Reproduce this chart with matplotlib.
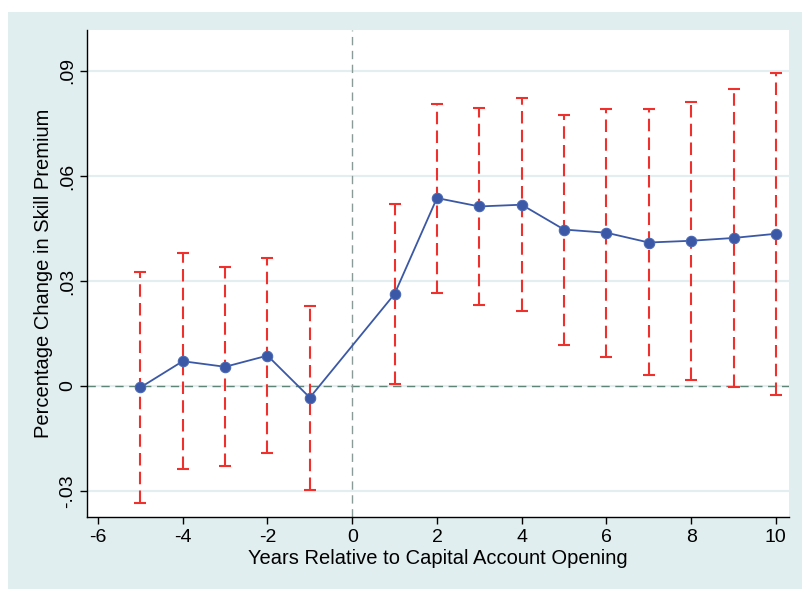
import numpy as np
import matplotlib
matplotlib.use("Agg")
import matplotlib.pyplot as plt

# Event-study estimates and 95% confidence bounds
years = [-5, -4, -3, -2, -1, 1, 2, 3, 4, 5, 6, 7, 8, 9, 10]
coef = [-0.0004, 0.0071, 0.0055, 0.0087, -0.0033, 0.0263, 0.0537, 0.0513, 0.0518,
        0.0447, 0.0438, 0.0410, 0.0415, 0.0423, 0.0435]
ci_low = [-0.0333, -0.0238, -0.0228, -0.0190, -0.0297, 0.0005, 0.0267, 0.0231, 0.0213,
          0.0118, 0.0083, 0.0031, 0.0017, -0.0003, -0.0025]
ci_high = [0.0325, 0.0381, 0.0339, 0.0365, 0.0230, 0.0521, 0.0806, 0.0793, 0.0823,
           0.0775, 0.0790, 0.0790, 0.0812, 0.0849, 0.0894]

xticks = [-6, -4, -2, 0, 2, 4, 6, 8, 10]
yticks = [-0.03, 0, 0.03, 0.06, 0.09]
ytick_labels = ["-.03", "0", ".03", ".06", ".09"]

bg = "#e1eef0"
navy = "#3b58a6"
red = "#f0302c"

plt.rcParams['font.family'] = ['Liberation Sans Narrow', 'Liberation Sans', 'DejaVu Sans']

fig = plt.figure(figsize=(8.02, 5.89), dpi=100)
# shaded graph region with a white strip across the top
fig.patches.append(plt.Rectangle((8 / 802, 0), 1, 1 - 12 / 589, transform=fig.transFigure,
                                 facecolor=bg, edgecolor="none", zorder=-1))
ax = fig.add_axes([87 / 802, 1 - 517 / 589, (789 - 87) / 802, (517 - 30) / 589])
ax.set_facecolor("white")

ax.set_xlim(-6.26, 10.31)
ax.set_ylim(-0.0374, 0.1017)

for y in yticks:
    ax.axhline(y, color="#e4eef1", lw=1.6, zorder=0)
ax.axhline(0, color="#5f8578", lw=1.0, ls=(0, (6, 4)), zorder=1)
ax.axvline(0, color="#8a9a96", lw=1.0, ls=(0, (6, 4)), zorder=1)

yerr = [np.array(coef) - np.array(ci_low), np.array(ci_high) - np.array(coef)]
eb = ax.errorbar(years, coef, yerr=yerr, fmt="none", ecolor=red, elinewidth=1.5,
                 capsize=4, capthick=1.5, zorder=2)
eb[2][0].set_linestyle((0, (6, 3)))

ax.plot(years, coef, color=navy, lw=1.3, marker="o", markersize=7.5,
        markerfacecolor=navy, markeredgecolor="#4a68b4", markeredgewidth=0.8, zorder=3)

ax.set_xticks(xticks)
ax.set_xticklabels([str(t) for t in xticks])
ax.set_yticks(yticks)
ax.set_yticklabels(ytick_labels, rotation=90, va="center")
ax.tick_params(axis="both", direction="out", length=5, width=1, labelsize=14, colors="black")
ax.tick_params(axis="x", pad=4)
ax.tick_params(axis="y", pad=3)

for side in ["top", "right"]:
    ax.spines[side].set_visible(False)
for side in ["left", "bottom"]:
    ax.spines[side].set_linewidth(1.0)
    ax.spines[side].set_color("black")

ax.set_xlabel("Years Relative to Capital Account Opening", fontsize=14.5, labelpad=2)
ax.set_ylabel("Percentage Change in Skill Premium", fontsize=14.5, labelpad=4)

fig.savefig("out.png", dpi=100)
